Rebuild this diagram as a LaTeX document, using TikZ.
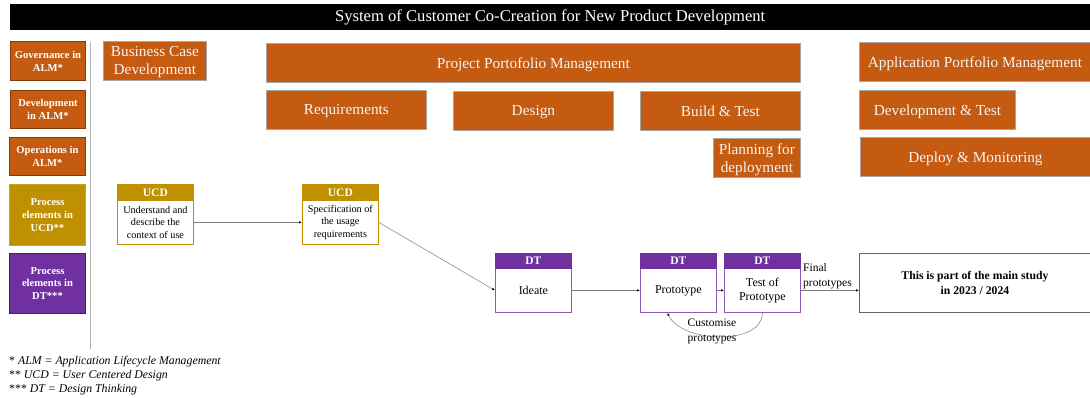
\documentclass[tikz,border=0pt]{standalone}
\usepackage{fontspec}
\setmainfont{Liberation Serif}
\usetikzlibrary{arrows.meta}
\definecolor{almorange}{HTML}{C55A11}
\definecolor{almedge}{HTML}{843C0C}
\definecolor{ucdgold}{HTML}{BF9000}
\definecolor{dtpurple}{HTML}{7030A0}
\definecolor{paletext}{HTML}{F4F4F4}
\definecolor{linegray}{HTML}{7F7F7F}
\tikzset{
  almbox/.style={draw=gray!70, line width=0.8pt, fill=almorange, text=paletext, text depth=0pt,
    anchor=north west, inner sep=0pt, align=center, font=\fontsize{15.3}{18}\selectfont},
  legendbox/.style={draw=almedge, line width=1pt, fill=#1, text=white,
    anchor=north west, inner sep=0pt, align=center, font=\fontsize{10.6}{12.8}\selectfont\bfseries},
  ucdhead/.style={fill=ucdgold, draw=ucdgold, line width=0.8pt, text=white, anchor=north west,
    inner sep=0pt, minimum width=76pt, minimum height=16pt, font=\fontsize{11.5}{13}\selectfont\bfseries},
  ucdbody/.style={draw=ucdgold, line width=0.8pt, fill=white, anchor=north west, inner sep=0pt,
    minimum width=76pt, minimum height=44pt, align=center, font=\fontsize{10.2}{12.8}\selectfont},
  dthead/.style={fill=dtpurple, draw=dtpurple, line width=0.8pt, text=white, anchor=north west,
    inner sep=0pt, minimum width=76pt, minimum height=15pt, font=\fontsize{11.5}{13}\selectfont\bfseries},
  dtbody/.style={draw=dtpurple!80, line width=0.8pt, fill=white, anchor=north west, inner sep=0pt,
    minimum width=76pt, minimum height=44pt, align=center, font=\fontsize{12}{14.5}\selectfont},
  flow/.style={draw=linegray, line width=0.5pt, -{Latex[length=3pt,width=2.5pt,color=black]}},
  note/.style={anchor=west, inner sep=0pt, font=\fontsize{11.8}{13}\selectfont},
}
\begin{document}
\begin{tikzpicture}[x=1pt,y=-1pt]
\useasboundingbox (0,0) rectangle (1090,398);
\fill[white] (0,0) rectangle (1090,398);

% title bar
\node[fill=black, text=white, anchor=north west, inner sep=0pt, minimum width=1080pt,
  minimum height=26pt, font=\fontsize{16.6}{19}\selectfont] (title) at (10,4) {System of Customer Co-Creation for New Product Development};

% legend column
\node[legendbox=almorange, minimum width=75pt, minimum height=39pt] (gov) at (10,41) {Governance in\\ALM*};
\node[legendbox=almorange, minimum width=75pt, minimum height=38pt] (dev) at (10,90) {Development\\in ALM*};
\node[legendbox=almorange, minimum width=76pt, minimum height=38pt] (ops) at (9,137) {Operations in\\ALM*};
\node[legendbox=ucdgold, draw=ucdgold!85!white, minimum width=76pt, minimum height=61pt] (pucd) at (9,184) {Process\\elements in\\UCD**};
\node[legendbox=dtpurple, draw=dtpurple!60!black, minimum width=76pt, minimum height=60pt] (pdt) at (9,253) {Process\\elements in\\DT***};

% divider
\draw[draw=gray!60, line width=0.8pt] (90,42) -- (90,349);

% ALM boxes
\node[almbox, minimum width=103pt, minimum height=39pt] (bcd) at (103,41) {Business Case\\Development};
\node[almbox, minimum width=534pt, minimum height=39pt] (ppm) at (266,43) {Project Portofolio Management};
\node[almbox, minimum width=160pt, minimum height=39pt] (req) at (266,90) {Requirements};
\node[almbox, minimum width=160pt, minimum height=39pt] (des) at (453,91) {Design};
\node[almbox, minimum width=160pt, minimum height=39pt] (bt) at (640,91) {Build \& Test};
\node[almbox, minimum width=87pt, minimum height=39pt] (pfd) at (713,138) {Planning for\\deployment};
\node[almbox, minimum width=231pt, minimum height=39pt] (apm) at (859,42) {Application Portfolio Management};
\node[almbox, minimum width=156pt, minimum height=39pt] (dnt) at (859,90) {Development \& Test};
\node[almbox, minimum width=230pt, minimum height=39pt] (dam) at (860,137) {Deploy \& Monitoring};

% UCD process elements
\node[ucdbody] (ucdA) at (117,200) {Understand and\\describe the\\context of use};
\node[ucdhead] (ucdAh) at (117,184) {UCD};
\node[ucdbody] (ucdB) at (302,200) {Specification of\\the usage\\requirements};
\node[ucdhead] (ucdBh) at (302,184) {UCD};

% DT process elements
\node[dtbody] (ideate) at (495,268) {Ideate};
\node[dthead] (ideateh) at (495,253) {DT};
\node[dtbody] (proto) at (640,268) {Prototype};
\node[dthead] (protoh) at (640,253) {DT};
\node[dtbody] (test) at (724,268) {Test of\\Prototype};
\node[dthead] (testh) at (724,253) {DT};

% main study
\node[draw=gray!80!black, line width=0.8pt, anchor=north west, inner sep=0pt, minimum width=231pt,
  minimum height=59pt, align=center, font=\fontsize{11.7}{15}\selectfont\bfseries] (study) at (859,253)
  {This is part of the main study\\in 2023 / 2024};

% connectors
\draw[flow] (ucdA.east) -- (ucdB.west);
\draw[flow] (ucdB.east) -- (ideate.west);
\draw[flow] (ideate.east) -- (proto.west);
\draw[flow] (proto.east) -- (test.west);
\draw[flow] (test.east) -- (test.east -| study.west);
\draw[flow] (test.south) to[out=-90, in=-65, looseness=0.9] ([xshift=-11pt]proto.south);

% connector labels
\node[anchor=south west, inner sep=0pt, align=left, font=\fontsize{11.5}{15}\selectfont] (finlab) at (803,289) {Final\\prototypes};
\node[inner sep=0pt, align=center, font=\fontsize{11.5}{15}\selectfont] (custlab) at (712,331) {Customise\\prototypes};

% footnotes
\node[note] (n1) at (9,362) {* \textit{ALM = Application Lifecycle Management}};
\node[note] (n2) at (9,376) {** \textit{UCD = User Centered Design}};
\node[note] (n3) at (9,390) {*** \textit{DT = Design Thinking}};
\end{tikzpicture}
\end{document}
